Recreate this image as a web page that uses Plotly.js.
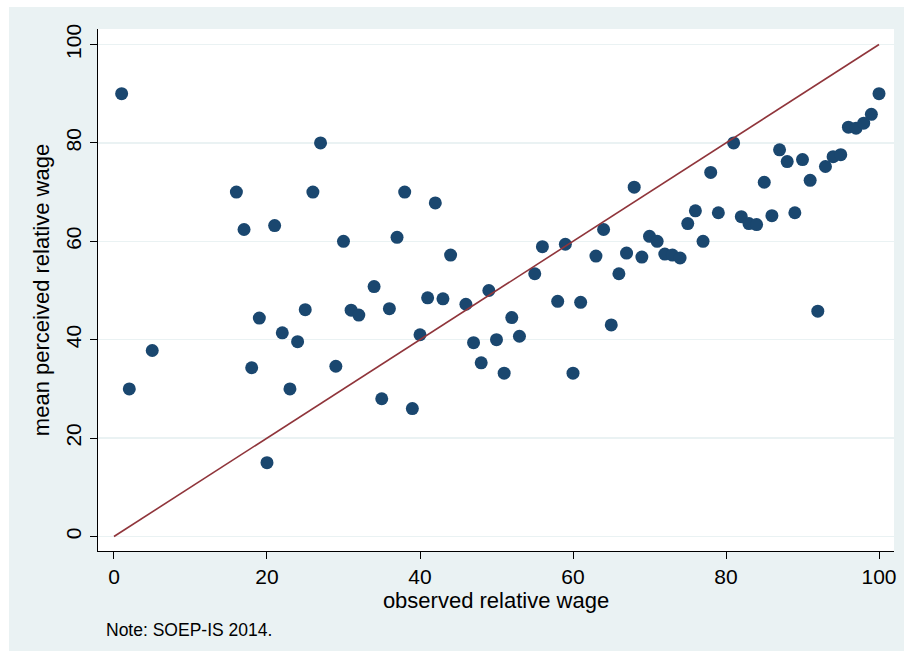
<!DOCTYPE html>
<html>
<head>
<meta charset="utf-8">
<script src="https://cdn.plot.ly/plotly-3.0.1.min.js"></script>
<style>
  body { margin: 0; background: #ffffff; }
  #chart { position: absolute; left: 9px; top: 7px; width: 895px; height: 644px; }
</style>
</head>
<body>
<div id="chart"></div>
<script>
// observed relative wage (x) and mean perceived relative wage (y)
const observed = [1, 2, 5, 16, 17, 18, 19, 20, 21, 22, 23, 24, 25, 26, 27, 29, 30, 31, 32, 34,
  35, 36, 37, 38, 39, 40, 41, 42, 43, 44, 46, 47, 48, 49, 50, 51, 52, 53, 55, 56,
  58, 59, 60, 61, 63, 64, 65, 66, 67, 68, 69, 70, 71, 72, 73, 74, 75, 76, 77, 78,
  79, 81, 82, 83, 84, 85, 86, 87, 88, 89, 90, 91, 92, 93, 94, 95, 96, 97, 98, 99, 100];
const perceived = [90, 30, 37.8, 70, 62.4, 34.3, 44.4, 15, 63.2, 41.4, 30, 39.6, 46.1, 70, 80, 34.6, 60, 46, 45, 50.8,
  28, 46.3, 60.8, 70, 26, 41, 48.5, 67.8, 48.3, 57.2, 47.2, 39.4, 35.3, 50, 40, 33.2, 44.5, 40.7, 53.4, 58.9,
  47.8, 59.4, 33.2, 47.6, 57, 62.4, 43, 53.4, 57.6, 71, 56.8, 61, 60, 57.4, 57.2, 56.6, 63.6, 66.2, 60, 74,
  65.8, 80, 65, 63.6, 63.4, 72, 65.2, 78.6, 76.2, 65.8, 76.6, 72.4, 45.8, 75.2, 77.2, 77.6, 83.2, 83, 84, 85.8, 90];
const diagonal = [0, 100];
const ticks = [0, 20, 40, 60, 80, 100];

const font = { family: 'Liberation Sans, Arial, sans-serif', color: '#000000' };

const traces = [
  {
    type: 'scatter', mode: 'markers', x: observed, y: perceived,
    marker: { color: '#1a476f', size: 13 }, hoverinfo: 'x+y'
  },
  {
    type: 'scatter', mode: 'lines', x: diagonal, y: diagonal,
    line: { color: '#90353b', width: 1.6 }, hoverinfo: 'skip'
  }
];

const axisBase = {
  tickvals: ticks, ticks: 'outside', ticklen: 7, tickcolor: '#000', tickwidth: 1,
  showline: true, linecolor: '#000', linewidth: 1.2, zeroline: false,
  tickfont: { ...font, size: 21 }
};

const layout = {
  width: 895, height: 644,
  paper_bgcolor: '#eaf2f3', plot_bgcolor: '#ffffff',
  showlegend: false,
  margin: { l: 89, r: 10, t: 22, b: 100 },
  font: font,
  xaxis: {
    ...axisBase, range: [-2.09, 101.96], showgrid: false,
    title: { text: 'observed relative wage', font: { ...font, size: 22 }, standoff: 4 }
  },
  yaxis: {
    ...axisBase, range: [-2.95, 103.15], tickangle: -90,
    showgrid: true, gridcolor: '#eaf2f3', gridwidth: 1.2,
    title: { text: 'mean perceived relative wage', font: { ...font, size: 22 }, standoff: 6 }
  },
  annotations: [{
    xref: 'paper', yref: 'paper', x: 0.007, y: -0.151, xanchor: 'left', yanchor: 'middle',
    text: 'Note: SOEP-IS 2014.', showarrow: false, font: { ...font, size: 17.5 }
  }]
};

Plotly.newPlot('chart', traces, layout, { displayModeBar: false, staticPlot: true });
</script>
</body>
</html>
